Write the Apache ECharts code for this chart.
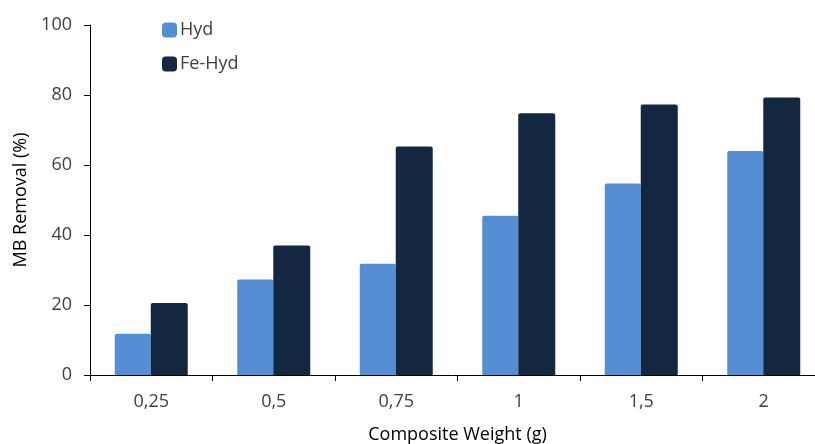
<!DOCTYPE html>
<html>
<head>
<meta charset="utf-8">
<script src="https://cdn.jsdelivr.net/npm/echarts@6/dist/echarts.min.js"></script>
<style>
  html, body { margin: 0; padding: 0; background: #fff; }
  #chart { width: 815px; height: 444px; }
</style>
</head>
<body>
<div id="chart"></div>
<script>
// Composite weights (g), as printed on the axis
const categories = ['0,25', '0,5', '0,75', '1', '1,5', '2'];
// Methylene blue removal (%) for each adsorbent
const hydValues = [11.8, 27.3, 31.8, 45.5, 54.7, 64.0];
const feHydValues = [20.6, 37.0, 65.3, 74.8, 77.3, 79.3];
const yTicks = [0, 20, 40, 60, 80, 100];

const fontFamily = '"Open Sans", "Noto Sans", sans-serif';
const chart = echarts.init(document.getElementById('chart'), null, { renderer: 'canvas' });

chart.setOption({
  animation: false,
  textStyle: { fontFamily },
  legend: {
    orient: 'vertical',
    left: 157,
    top: 16,
    itemWidth: 15,
    itemHeight: 15,
    itemGap: 16,
    icon: 'roundRect',
    textStyle: { fontSize: 18, color: '#404040', fontFamily, padding: [0, 0, 0, -2] },
    data: ['Hyd', 'Fe-Hyd']
  },
  grid: { left: 90, right: -10, top: 25, bottom: 69, containLabel: false, outerBoundsMode: 'none' },
  xAxis: {
    type: 'category',
    data: categories,
    name: 'Composite Weight (g)',
    nameLocation: 'middle',
    nameGap: 51,
    nameTextStyle: { fontSize: 18, color: '#000', fontFamily },
    axisLine: { lineStyle: { color: '#000', width: 1 } },
    axisTick: { show: true, alignWithLabel: false, length: 6, lineStyle: { color: '#000' } },
    axisLabel: { fontSize: 18, color: '#404040', margin: 18, fontFamily }
  },
  yAxis: {
    type: 'value',
    min: yTicks[0],
    max: yTicks[yTicks.length - 1],
    interval: 20,
    name: 'MB Removal (%)',
    nameLocation: 'middle',
    nameGap: 59,
    nameTextStyle: { fontSize: 18, color: '#000', fontFamily },
    axisLine: { show: true, lineStyle: { color: '#000', width: 1 } },
    axisTick: { show: true, inside: false, length: 6, lineStyle: { color: '#000' } },
    axisLabel: { fontSize: 18, color: '#404040', margin: 18, fontFamily },
    splitLine: { show: false }
  },
  series: [
    {
      name: 'Hyd',
      type: 'bar',
      data: hydValues,
      barWidth: 36,
      barGap: '0%',
      itemStyle: { color: '#558ed5', borderRadius: [2, 2, 0, 0] }
    },
    {
      name: 'Fe-Hyd',
      type: 'bar',
      data: feHydValues,
      barWidth: 37,
      barGap: '0%',
      itemStyle: { color: '#132741', borderRadius: [2, 2, 0, 0] }
    }
  ]
});
</script>
</body>
</html>
